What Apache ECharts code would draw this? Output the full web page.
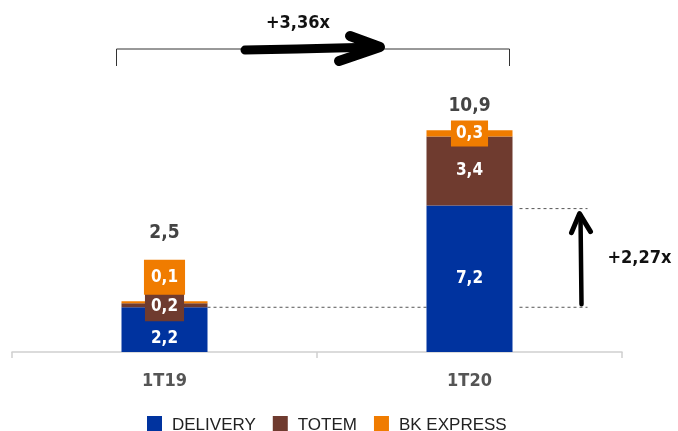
<!DOCTYPE html>
<html><head><meta charset="utf-8">
<script src="https://cdn.jsdelivr.net/npm/echarts@6/dist/echarts.min.js"></script>
<style>html,body{margin:0;padding:0;background:#fff}#c{width:678px;height:431px}</style></head>
<body><div id="c"></div>
<script>
const categories = ['1T19', '1T20'];
const delivery = [2.2, 7.2];
const totem = [0.2, 3.4];
const bkExpress = [0.1, 0.3];
const totals = [2.5, 10.9];
const growthTotal = '+3,36x';
const growthDelivery = '+2,27x';

const FONT = "'DejaVu Sans Condensed','Liberation Sans Narrow','Roboto',sans-serif";
const C_BLUE = '#00339f', C_BROWN = '#6f3b2f', C_ORANGE = '#f07c00';
const fmt = v => v.toFixed(1).replace('.', ',');

const baseLabel = {show: true, color: '#fff', fontFamily: FONT, fontWeight: 'bold', fontSize: 17, formatter: p => fmt(p.value)};

const deliveryData = delivery.map((v, i) => i === 0 ? {value: v, label: Object.assign({}, baseLabel, {position: 'inside', offset: [0, 9]})} : {value: v});
const totemData = totem.map((v, i) => i === 0 ? {value: v, label: Object.assign({}, baseLabel, {position: 'inside', offset: [0, 1], backgroundColor: C_BROWN, padding: [7, 6, 6, 6]})} : {value: v});
const bkData = bkExpress.map((v, i) => i === 0
  ? {value: v, label: Object.assign({}, baseLabel, {position: 'inside', offset: [0, -25], backgroundColor: C_ORANGE, padding: [9, 7, 9, 7]})}
  : {value: v, label: Object.assign({}, baseLabel, {position: 'inside', backgroundColor: C_ORANGE, padding: [5, 5, 4, 5]})});

const chart = echarts.init(document.getElementById('c'), null, {renderer: 'canvas'});
chart.setOption({
  animation: false,
  grid: {left: 12, right: 56, top: 108, bottom: 79},
  legend: {
    top: 411, left: 142, icon: 'rect', itemWidth: 15, itemHeight: 18, itemGap: 17,
    textStyle: {fontFamily: "'Liberation Sans','Arimo',sans-serif", fontSize: 17, color: '#222', padding: [4, 0, 0, 5]},
    data: ['DELIVERY', 'TOTEM', 'BK EXPRESS']
  },
  xAxis: {
    type: 'category', data: categories,
    axisLine: {lineStyle: {color: '#cfcfcf', width: 1.5}},
    axisTick: {show: true, length: 6, lineStyle: {color: '#cfcfcf', width: 1.5}},
    axisLabel: {fontFamily: FONT, fontWeight: 'bold', fontSize: 18, color: '#555', margin: 20}
  },
  yAxis: {type: 'value', min: 0, max: 12, show: false, splitLine: {show: false}},
  series: [
    {name: 'DELIVERY', type: 'bar', stack: 's', barWidth: 86, data: deliveryData, itemStyle: {color: C_BLUE},
     label: Object.assign({}, baseLabel, {position: 'inside'})},
    {name: 'TOTEM', type: 'bar', stack: 's', barWidth: 86, data: totemData, itemStyle: {color: C_BROWN},
     label: Object.assign({}, baseLabel, {position: 'inside'})},
    {name: 'BK EXPRESS', type: 'bar', stack: 's', barWidth: 86, data: bkData, itemStyle: {color: C_ORANGE},
     label: {show: false}}
  ]
});

const px = (i, v) => chart.convertToPixel({gridIndex: 0}, [i, v]);
const c0 = px(0, 0)[0], c1 = px(1, 0)[0];
const half = 43;
const yD0 = px(0, delivery[0])[1], yD1 = px(1, delivery[1])[1];
const yT0 = px(0, totals[0])[1], yT1 = px(1, totals[1])[1];
const mid = (c0 + c1) / 2;
const dash = {stroke: '#555', lineWidth: 1, lineDash: [3, 3]};
const g = [];
g.push({type: 'line', shape: {x1: c0 + half, y1: yD0, x2: c1 - half, y2: yD0}, style: dash, silent: true});
g.push({type: 'line', shape: {x1: c1 + 50, y1: yD0, x2: c1 + 118, y2: yD0}, style: dash, silent: true});
g.push({type: 'line', shape: {x1: c1 + 50, y1: yD1 + 3, x2: c1 + 118, y2: yD1 + 3}, style: dash, silent: true});
g.push({type: 'polyline', shape: {points: [[c1 + 112, yD0 - 3], [c1 + 111, yD1 + 10]]}, style: {stroke: '#000', lineWidth: 4.5, lineCap: 'round', fill: null}, silent: true});
g.push({type: 'polyline', shape: {points: [[c1 + 102, yD1 + 27], [c1 + 110, yD1 + 8], [c1 + 121, yD1 + 26]]}, style: {stroke: '#000', lineWidth: 5, lineCap: 'round', lineJoin: 'round', fill: null}, silent: true});
g.push({type: 'text', x: c1 + 138, y: (yD0 + yD1) / 2 + 2, style: {text: growthDelivery, fontFamily: FONT, fontWeight: 'bold', fontSize: 18, fill: '#111', verticalAlign: 'middle'}, silent: true});
g.push({type: 'text', x: c0, y: yT0 - 68, style: {text: fmt(totals[0]), fontFamily: FONT, fontWeight: 'bold', fontSize: 19, fill: '#444', align: 'center', verticalAlign: 'middle'}, silent: true});
g.push({type: 'text', x: c1, y: yT1 - 24, style: {text: fmt(totals[1]), fontFamily: FONT, fontWeight: 'bold', fontSize: 19, fill: '#444', align: 'center', verticalAlign: 'middle'}, silent: true});
g.push({type: 'polyline', shape: {points: [[c0 - 48, 66], [c0 - 48, 49], [c1 + 40, 49], [c1 + 40, 66]]}, style: {stroke: '#333', lineWidth: 1, fill: null}, silent: true});
g.push({type: 'polyline', shape: {points: [[mid - 72, 50], [mid - 20, 49], [mid + 60, 47]]}, style: {stroke: '#000', lineWidth: 9, lineCap: 'round', lineJoin: 'round', fill: null}, silent: true});
g.push({type: 'polyline', shape: {points: [[mid + 33, 36], [mid + 63, 47], [mid + 22, 61]]}, style: {stroke: '#000', lineWidth: 10, lineCap: 'round', lineJoin: 'round', fill: null}, silent: true});
g.push({type: 'text', x: mid - 19, y: 23, style: {text: growthTotal, fontFamily: FONT, fontWeight: 'bold', fontSize: 18, fill: '#111', align: 'center', verticalAlign: 'middle'}, silent: true});
chart.setOption({graphic: g});
</script>
</body></html>
